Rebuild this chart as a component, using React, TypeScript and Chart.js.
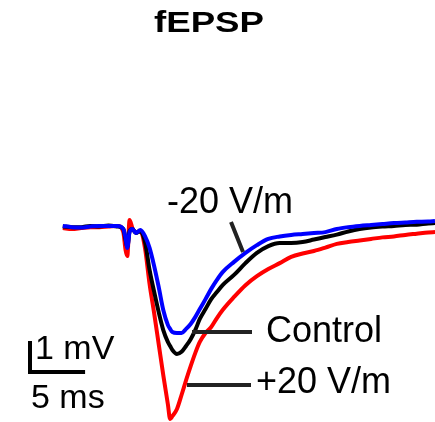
import { useEffect, useRef } from "react";
import { Chart, registerables } from "chart.js";

Chart.register(...registerables);

// time (ms) of each sample
const times = [
  0, 0.8, 1.6, 2.4, 3.2, 4.0, 4.8,
  5.3, 5.5, 5.65, 5.85, 6.1, 6.4, 6.8, 7.2,
  7.6, 8.0, 8.4, 8.8, 9.2, 9.4, 9.6, 10.0, 10.4, 10.8, 11.2, 11.6, 12.0,
  12.5, 13, 13.5, 14,
  15, 16, 17, 18, 19, 20, 21, 22, 23, 24, 25, 26, 27, 28, 29, 30, 31, 32,
  32.6,
];

// fEPSP voltage (mV)
const minus20 = [
  0.02, -0.02, -0.03, 0, 0.02, 0.02, 0.02,
  -0.08, -0.37, -0.69, -0.18, -0.08, -0.21, -0.11, -0.31,
  -0.69, -1.27, -1.95, -2.69, -3.17, -3.3, -3.4, -3.43, -3.43, -3.3, -3.14, -2.92, -2.66,
  -2.34, -2.01, -1.72, -1.47,
  -1.14, -0.85, -0.6, -0.4, -0.32, -0.27, -0.24, -0.21, -0.18, -0.08, -0.02, 0.02, 0.05, 0.08, 0.11, 0.13, 0.15, 0.16,
  0.18,
];

const control = [
  0.0, -0.02, -0.02, 0.02, 0.0, 0.03, 0.0,
  -0.08, -0.44, -0.66, -0.15, -0.08, -0.21, -0.15, -0.5,
  -1.4, -2.1, -2.76, -3.34, -3.72, -3.85, -3.98, -4.11, -4.04, -3.85, -3.63, -3.34, -2.98,
  -2.66, -2.34, -2.11, -1.89,
  -1.56, -1.18, -0.85, -0.63, -0.53, -0.53, -0.5, -0.42, -0.34, -0.26, -0.16, -0.08, -0.03, 0, 0.02, 0.05, 0.06, 0.1,
  0.11,
];

const plus20 = [
  -0.05, -0.08, -0.05, -0.02, -0.02, 0, 0.02,
  -0.18, -0.76, -0.95, 0.21, -0.05, -0.18, -0.15, -0.7,
  -1.85, -2.79, -3.79, -4.79, -5.72, -6.2, -6.11, -5.88, -5.43, -4.95, -4.5, -4.08, -3.72,
  -3.43, -3.24, -2.95, -2.69,
  -2.27, -1.89, -1.6, -1.37, -1.18, -0.98, -0.87, -0.79, -0.68, -0.56, -0.5, -0.45, -0.4, -0.35, -0.32, -0.27, -0.23, -0.19,
  -0.18,
];

const seriesLabels = ["-20 V/m", "Control", "+20 V/m"];
const titleText = "fEPSP";
const scaleBarMv = 1;
const scaleBarMs = 5;
const scaleBarLabels = ["1 mV", "5 ms"];

const FONT = '"Liberation Sans", Arial, Helvetica, sans-serif';

const annotationPlugin = {
  id: "annotations",
  afterDatasetsDraw(chart: any) {
    const ctx = chart.ctx as CanvasRenderingContext2D;
    const xs = chart.scales.x;
    const ys = chart.scales.y;
    ctx.save();

    // title (slightly wide lettering)
    ctx.fillStyle = "#000";
    ctx.font = `bold 29px ${FONT}`;
    const tw = ctx.measureText(titleText).width;
    ctx.save();
    ctx.translate(209, 32);
    ctx.scale(110 / tw, 1);
    ctx.textAlign = "center";
    ctx.textBaseline = "alphabetic";
    ctx.fillText(titleText, 0, 0);
    ctx.restore();

    // series labels
    ctx.textAlign = "left";
    ctx.textBaseline = "alphabetic";
    ctx.font = `36px ${FONT}`;
    ctx.fillText(seriesLabels[0], 167, 213);
    ctx.fillText(seriesLabels[1], 266, 342);
    ctx.fillText(seriesLabels[2], 256, 393);

    // pointer lines
    ctx.strokeStyle = "#222";
    ctx.lineWidth = 4;
    ctx.lineCap = "butt";
    ctx.beginPath();
    ctx.moveTo(231, 222);
    ctx.lineTo(243, 252);
    ctx.moveTo(192, 332);
    ctx.lineTo(252, 332);
    ctx.moveTo(187, 385);
    ctx.lineTo(251, 385);
    ctx.stroke();

    // scale bar
    const barW = xs.getPixelForValue(scaleBarMs) - xs.getPixelForValue(0);
    const barH = ys.getPixelForValue(0) - ys.getPixelForValue(scaleBarMv);
    ctx.strokeStyle = "#000";
    ctx.lineWidth = 4;
    ctx.lineJoin = "miter";
    ctx.beginPath();
    ctx.moveTo(30, 372 - barH);
    ctx.lineTo(30, 372);
    ctx.lineTo(28 + barW, 372);
    ctx.stroke();

    ctx.font = `34px ${FONT}`;
    ctx.fillText(scaleBarLabels[0], 35, 359);
    ctx.fillText(scaleBarLabels[1], 31, 408);

    ctx.restore();
  },
};

export default function App() {
  const canvasRef = useRef<HTMLCanvasElement | null>(null);

  useEffect(() => {
    if (!canvasRef.current) return;
    const mk = (vals: number[]) => times.map((t, i) => ({ x: t, y: vals[i] }));
    const common = {
      pointRadius: 0,
      borderWidth: 4,
      fill: false,
      cubicInterpolationMode: "monotone" as const,
      borderJoinStyle: "round" as const,
    };
    const chart = new Chart(canvasRef.current, {
      type: "line",
      data: {
        datasets: [
          { ...common, label: seriesLabels[0], data: mk(minus20), borderColor: "#0000ff" },
          { ...common, label: seriesLabels[1], data: mk(control), borderColor: "#000000" },
          { ...common, label: seriesLabels[2], data: mk(plus20), borderColor: "#ff0000" },
        ],
      },
      options: {
        animation: false,
        responsive: true,
        maintainAspectRatio: false,
        layout: { padding: 0 },
        plugins: {
          legend: { display: false },
          tooltip: { enabled: false },
          title: { display: false },
        },
        scales: {
          x: { type: "linear", min: -5.5, max: 32.6, display: false },
          y: { type: "linear", min: -6.3, max: 7.3, display: false },
        },
      },
      plugins: [annotationPlugin],
    });
    return () => chart.destroy();
  }, []);

  return (
    <div
      style={{
        position: "fixed",
        left: 0,
        top: 0,
        width: 435,
        height: 422,
        background: "#fff",
      }}
    >
      <canvas ref={canvasRef} />
    </div>
  );
}
